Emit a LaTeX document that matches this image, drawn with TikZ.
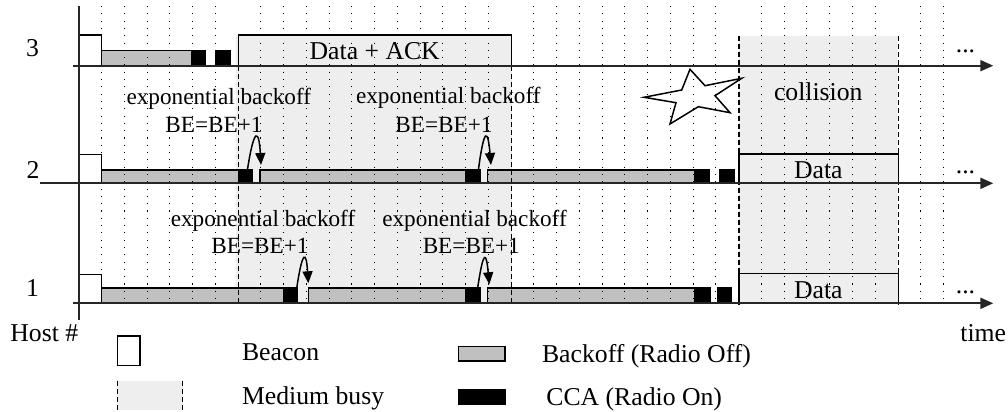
\documentclass[tikz,border=0pt]{standalone}
\usepackage{fontspec}
\setmainfont{Liberation Serif}
\usetikzlibrary{arrows.meta}
\definecolor{boff}{HTML}{C0C0C0}
\definecolor{busy}{HTML}{EEEEEE}
\begin{document}
\begin{tikzpicture}[x=0.5pt,y=-0.5pt,
  axisl/.style={line width=1pt, draw=black!85, -{Triangle[length=6.5pt,width=5.5pt]}},
  plainaxis/.style={line width=1pt, draw=black!85},
  box/.style={draw=black, line width=0.75pt},
  bo/.style={box, fill=boff},
  cca/.style={box, fill=black},
  beacon/.style={box, fill=white},
  busybox/.style={box, fill=busy},
  gridl/.style={line width=0.55pt, dash pattern=on 0.55pt off 3.1pt},
  busyedge/.style={line width=0.75pt, dash pattern=on 2.5pt off 1.5pt},
  lbl/.style={font=\fontsize{12.85}{15}\selectfont, inner sep=0pt},
  small/.style={font=\fontsize{11.6}{13}\selectfont, inner sep=0pt},
  arr/.style={line width=0.75pt, -{Triangle[length=6pt,width=5pt]}}
]
\useasboundingbox (0,0) rectangle (1008,412);

% medium busy regions
\fill[busy] (236,35) rectangle (512,303.3);
\fill[busy] (739,35.7) rectangle (898.3,303.3);

% host 3
\draw[busybox] (238.3,35) rectangle (511.7,65.7);
\draw[beacon] (79,35) rectangle (101.7,65.7);
\draw[bo] (101.7,50.7) rectangle (191.7,65.7);
\draw[cca] (191.7,50.7) rectangle (205.7,65.7);
\draw[cca] (216,50.7) rectangle (230.3,65.7);

% host 2
\draw[beacon] (79,154.3) rectangle (101.7,183.3);
\draw[bo] (101.7,170) rectangle (238.3,183.3);
\draw[cca] (238.3,170) rectangle (252.3,183.3);
\draw[bo] (260,170) rectangle (466,183.3);
\draw[cca] (466,170) rectangle (480,183.3);
\draw[bo] (487.3,170) rectangle (695,183.3);
\draw[cca] (695,170) rectangle (709.3,183.3);
\draw[cca] (720,170) rectangle (734,183.3);
\draw[busybox] (739,154) rectangle (898.3,183.3);

% host 1
\draw[beacon] (79,274.3) rectangle (101.7,303.3);
\draw[bo] (101.7,288) rectangle (283.3,303.3);
\draw[cca] (283.3,288) rectangle (297.7,303.3);
\draw[bo] (308.3,288) rectangle (466,303.3);
\draw[cca] (466,288) rectangle (480,303.3);
\draw[bo] (487.3,288) rectangle (695,303.3);
\draw[cca] (695,288) rectangle (710,303.3);
\draw[cca] (717.3,288) rectangle (731.7,303.3);
\draw[busybox] (739,273.3) rectangle (898.3,303.3);

% dotted grid
\foreach \i in {0,...,37}{%
  \ifnum\i=6 \else\ifnum\i=18 \else\ifnum\i=28 \else\ifnum\i=35 \else
    \draw[gridl] ({101.7+\i*22.746},6) -- ({101.7+\i*22.746},305);
  \fi\fi\fi\fi
}

% busy edges
\draw[busyedge] (238.3,65.7) -- (238.3,305);
\draw[busyedge] (511.7,65.7) -- (511.7,305);
\draw[busyedge] (739,35.7) -- (739,305);
\draw[busyedge] (898.3,35.7) -- (898.3,305);

% axes
\draw[plainaxis] (79,6) -- (79,320);
\draw[axisl] (73,65.7) -- (993.3,65.7);
\draw[axisl] (40,183.3) -- (993.3,183.3);
\draw[axisl] (73,303.3) -- (993.3,303.3);

% star
\draw[line width=0.75pt, line join=miter] (690,69.3) -- (705,85.7) -- (741.7,78.3) -- (715,95.7) -- (730,112.7)
  -- (698.3,106.7) -- (670,124) -- (676,102.7) -- (644,97.3) -- (681.7,90) -- cycle;

% backoff arrows
\coordinate (s2a) at (247.3,170.7); \coordinate (t2a) at (261,165);
\coordinate (s2b) at (478.3,170.7); \coordinate (t2b) at (491,165);
\coordinate (s1a) at (296.7,288.3); \coordinate (t1a) at (308.3,283.3);
\coordinate (s1b) at (477.7,287.7); \coordinate (t1b) at (489.3,284.3);
\draw[arr] (s2a) .. controls +(7,-46) and +(-2,-35) .. (t2a);
\draw[arr] (s2b) .. controls +(6,-46) and +(-3,-35) .. (t2b);
\draw[arr] (s1a) .. controls +(6,-40) and +(-2,-32) .. (t1a);
\draw[arr] (s1b) .. controls +(6,-40) and +(-3,-32) .. (t1b);

% labels
\node[lbl, anchor=base] (n3) at (32.5,56.7) {3};
\node[lbl, anchor=base] (n2) at (33,178.3) {2};
\node[lbl, anchor=base] (n1) at (32.5,296.7) {1};
\node[lbl, anchor=base west] (host) at (10,341.7) {Host \#};
\node[lbl, anchor=base west] (time) at (960,341.7) {time};
\node[lbl, anchor=base] (dack) at (374.7,60) {Data + ACK};
\node[lbl, anchor=base] (coll) at (818.3,100.7) {collision};
\node[lbl, anchor=base] (d2) at (818.3,178.3) {Data};
\node[lbl, anchor=base] (d1) at (818.3,298.3) {Data};
\node[lbl, anchor=base] (e3) at (965.5,53) {...};
\node[lbl, anchor=base] (e2) at (965.5,173.3) {...};
\node[lbl, anchor=base] (e1) at (965.5,293) {...};

\node[small, anchor=base] (ea1) at (218.8,104.5) {exponential backoff};
\node[small, anchor=base] (eb1) at (214,132.5) {BE=BE+1};
\node[small, anchor=base] (ea2) at (448.3,104) {exponential backoff};
\node[small, anchor=base] (eb2) at (444,132) {BE=BE+1};
\node[small, anchor=base] (ea3) at (263,226.5) {exponential backoff};
\node[small, anchor=base] (eb3) at (260,253.3) {BE=BE+1};
\node[small, anchor=base] (ea4) at (474.5,226.5) {exponential backoff};
\node[small, anchor=base] (eb4) at (471.3,253.3) {BE=BE+1};

% legend
\draw[beacon] (117.3,336) rectangle (140,365.7);
\node[lbl, anchor=base west] (lbeacon) at (241.7,360) {Beacon};
\draw[bo] (458.3,346.7) rectangle (505,361);
\node[lbl, anchor=base west] (lboff) at (541.7,362.7) {Backoff (Radio Off)};
\fill[busy] (117.3,380.7) rectangle (182.7,410);
\draw[busyedge] (117.3,380.7) -- (117.3,410);
\draw[busyedge] (182.7,380.7) -- (182.7,410);
\node[lbl, anchor=base west] (lbusy) at (241.7,404) {Medium busy};
\draw[cca] (458.3,389.3) rectangle (505,404);
\node[lbl, anchor=base west] (lcca) at (546,405.7) {CCA (Radio On)};
\end{tikzpicture}
\end{document}
